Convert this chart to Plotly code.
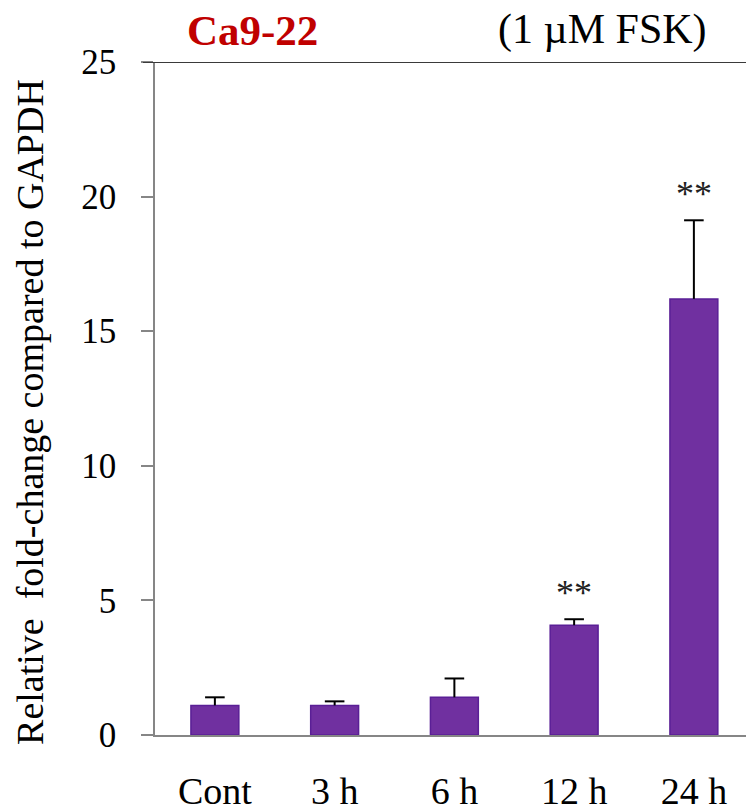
import plotly.graph_objects as go

# Relative expression in Ca9-22 cells after 1 µM FSK treatment
categories = ["Cont", "3 h", "6 h", "12 h", "24 h"]
fold_change = [1.10, 1.10, 1.40, 4.08, 16.20]
sd_upper = [0.30, 0.15, 0.70, 0.22, 2.92]
significance = ["", "", "", "**", "**"]
y_ticks = [0, 5, 10, 15, 20, 25]

SERIF = "Liberation Serif"
BAR_COLOR = "#7030A0"
AXIS_GREY = "#868686"

L, R, T, B = 155, 0, 62, 68
W, H = 746, 812
plot_w = W - L - R
cat_step = 119.75  # px per category

fig = go.Figure()

fig.add_trace(go.Bar(
    x=list(range(len(categories))),
    y=fold_change,
    marker=dict(color=BAR_COLOR, line=dict(color="#5a1f96", width=1.5)),
    showlegend=False,
    hoverinfo="skip",
))

# one-sided (upper) error bars: stem from bar top to mean + SD, then a cap
stem_x, stem_y = [], []
for i, (v, e) in enumerate(zip(fold_change, sd_upper)):
    stem_x += [i, i, None]
    stem_y += [v, v + e, None]
fig.add_trace(go.Scatter(
    x=stem_x, y=stem_y, mode="lines",
    line=dict(color="black", width=2),
    showlegend=False, hoverinfo="skip",
))
fig.add_trace(go.Scatter(
    x=list(range(len(categories))),
    y=[v + e for v, e in zip(fold_change, sd_upper)],
    mode="markers",
    marker=dict(symbol="line-ew", size=14, line=dict(color="black", width=2)),
    showlegend=False, hoverinfo="skip",
))

annotations = []
for i, (v, e, s) in enumerate(zip(fold_change, sd_upper, significance)):
    if s:
        annotations.append(dict(
            x=i, y=v + e, xref="x", yref="y", text=s, showarrow=False,
            yshift=26, font=dict(family=SERIF, size=36, color="#222"),
            xanchor="center", yanchor="middle",
        ))

annotations += [
    dict(text="<b>Ca9-22</b>", x=(252 - L) / plot_w, y=1.047,
         xref="paper", yref="paper", showarrow=False,
         font=dict(family=SERIF, size=43, color="#C00000"),
         xanchor="center", yanchor="middle"),
    dict(text="(1 µM FSK)", x=(602 - L) / plot_w, y=1.048,
         xref="paper", yref="paper", showarrow=False,
         font=dict(family=SERIF, size=42, color="black"),
         xanchor="center", yanchor="middle"),
    dict(text="Relative  fold-change compared to GAPDH",
         x=(30 - L) / plot_w, y=0.48, xref="paper", yref="paper",
         showarrow=False, textangle=-90,
         font=dict(family=SERIF, size=38, color="black"),
         xanchor="center", yanchor="middle"),
]

fig.update_layout(
    width=W, height=H,
    margin=dict(l=L, r=R, t=T, b=B, pad=0),
    paper_bgcolor="white", plot_bgcolor="white",
    bargap=0.6,
    annotations=annotations,
    shapes=[dict(type="line", xref="paper", yref="y",
                 x0=-12 / plot_w, x1=1, y0=25, y1=25,
                 line=dict(color="#3a3a3a", width=2))],
)

fig.update_xaxes(
    range=[-0.5, -0.5 + plot_w / cat_step],
    tickvals=list(range(len(categories))), ticktext=categories,
    showline=True, linecolor=AXIS_GREY, linewidth=1.5,
    ticks="", showgrid=False, zeroline=False,
    tickfont=dict(family=SERIF, size=38, color="black"),
    ticklabelstandoff=22,
)
fig.update_yaxes(
    range=[0, 25], tickvals=y_ticks,
    showline=True, linecolor=AXIS_GREY, linewidth=1.5,
    ticks="outside", ticklen=12, tickcolor=AXIS_GREY, tickwidth=1.5,
    showgrid=False, zeroline=False,
    tickfont=dict(family=SERIF, size=35, color="black"),
    ticklabelstandoff=18,
)

fig.write_html("out.html")
